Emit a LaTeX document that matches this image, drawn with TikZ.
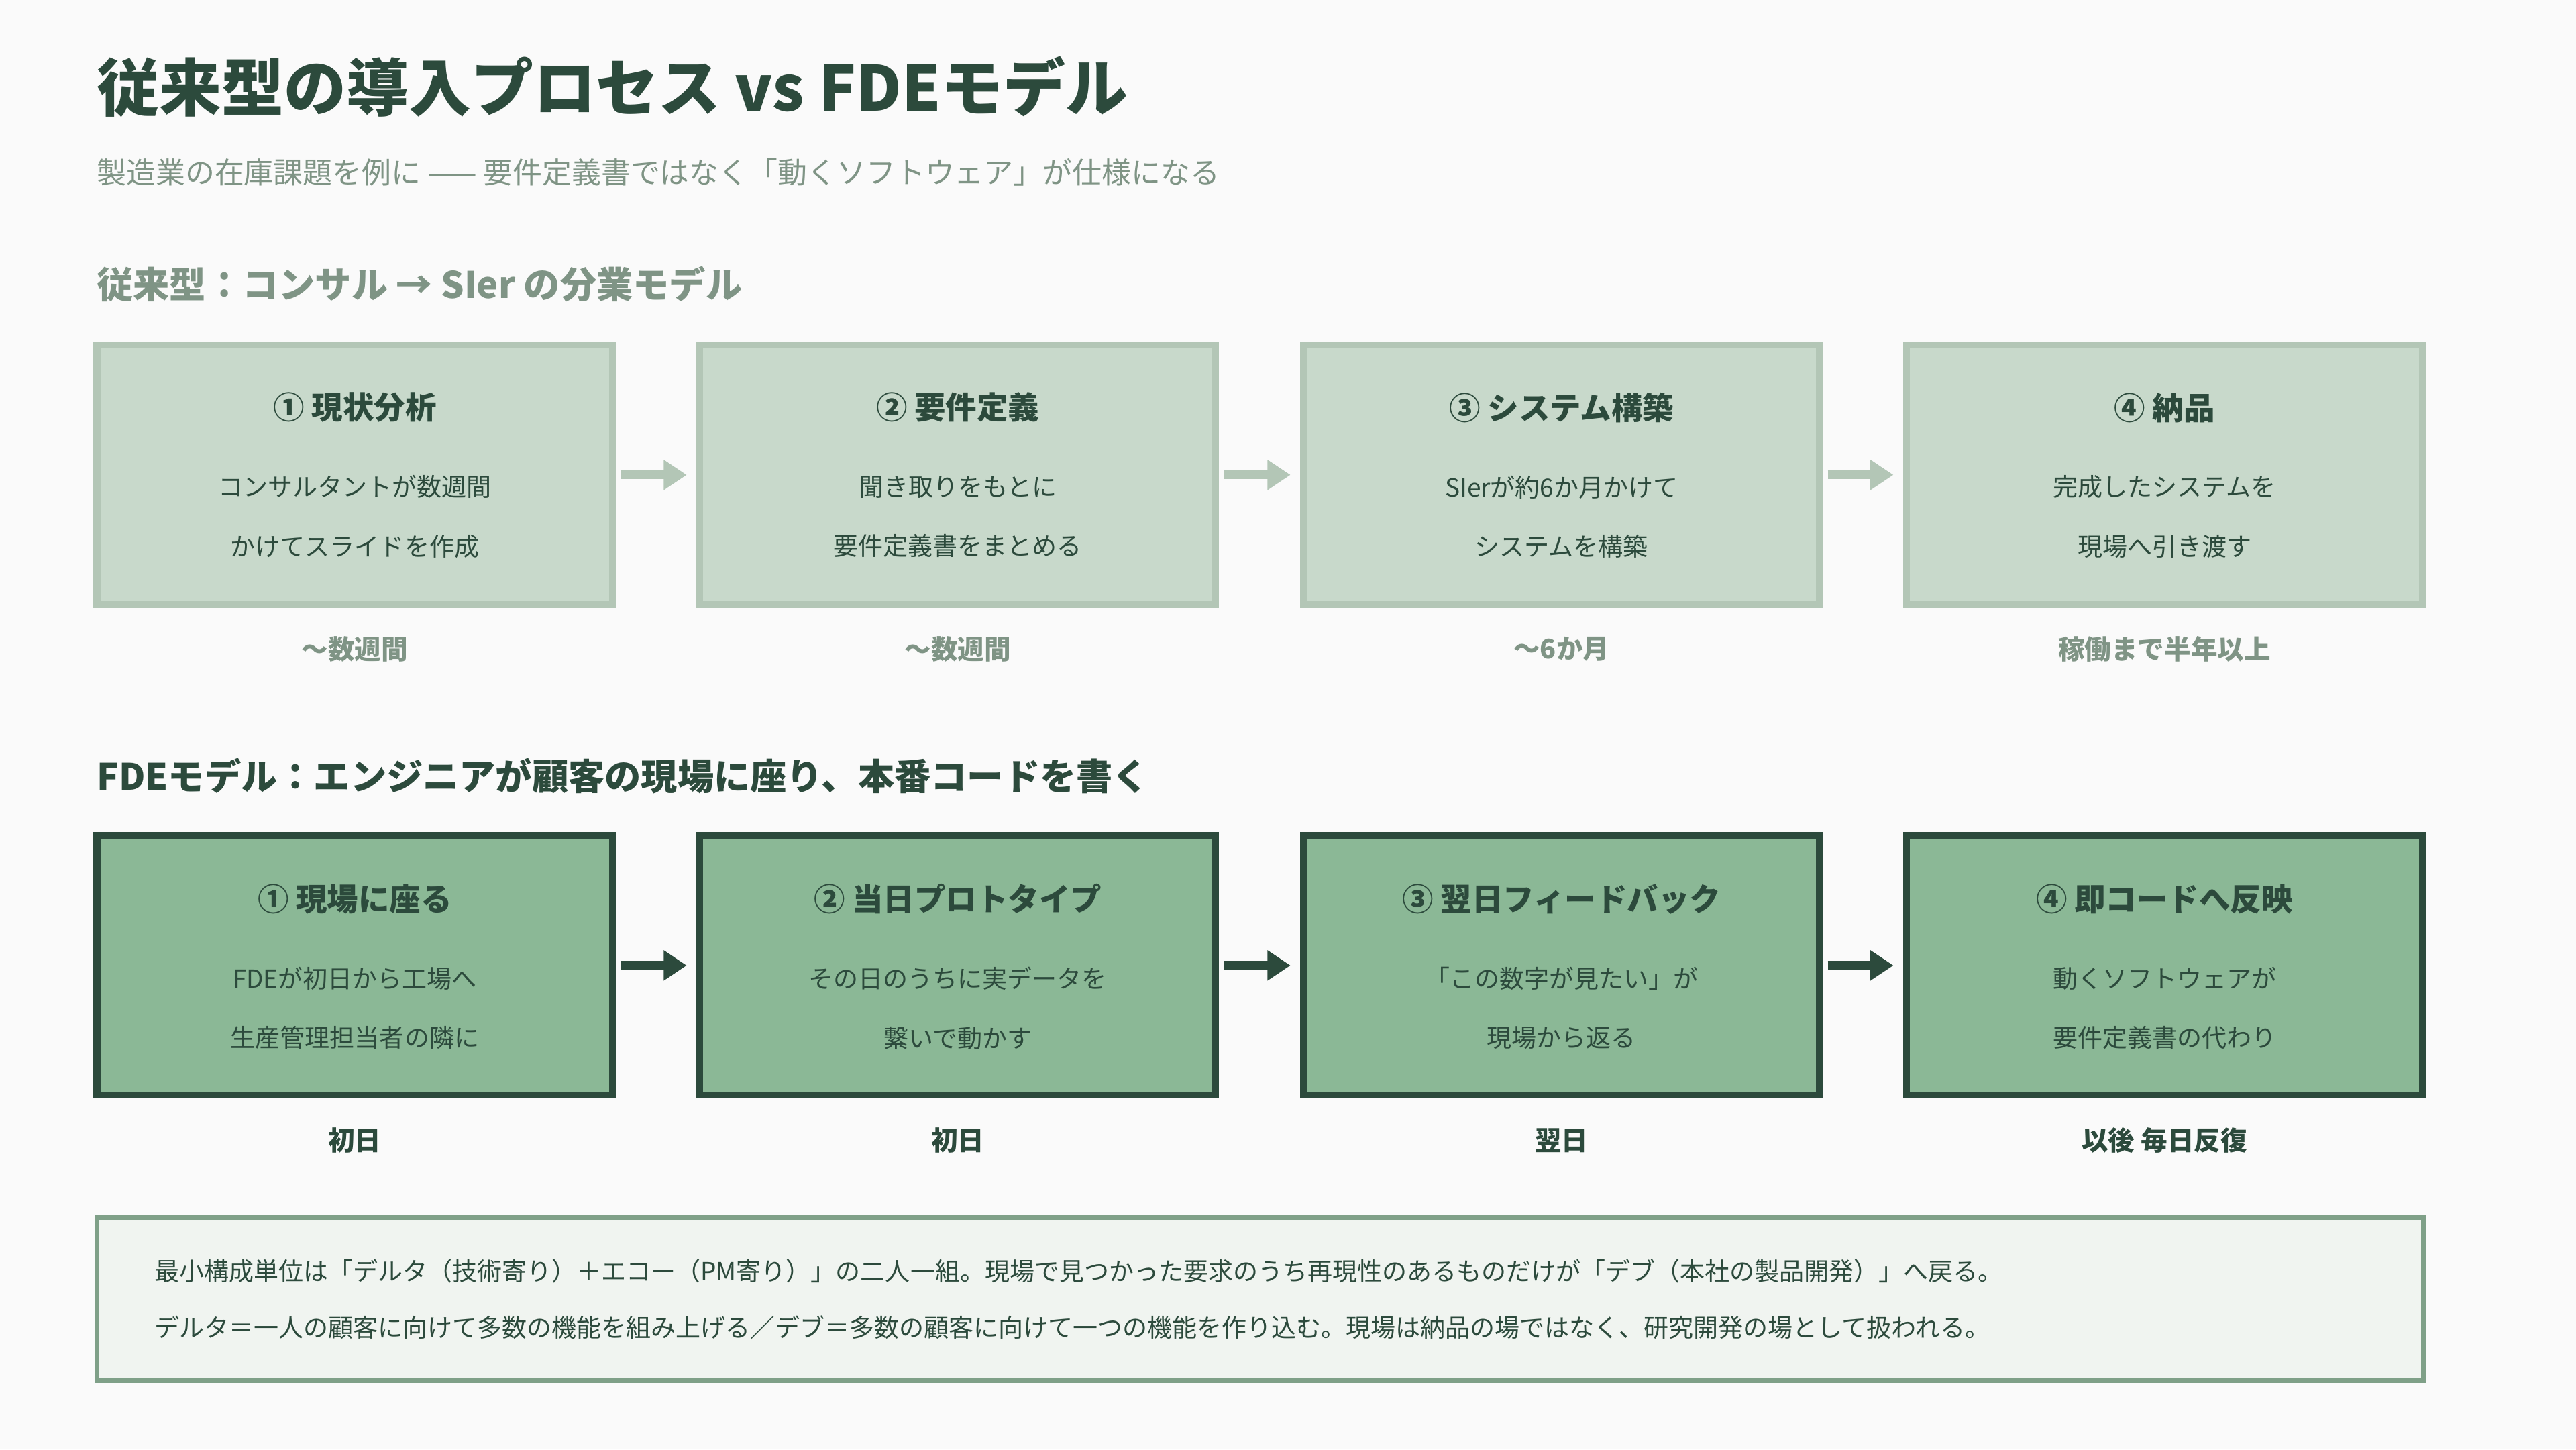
\documentclass[tikz,border=0pt]{standalone}
\usepackage{fontspec}
\setmainfont{Noto Sans CJK JP}
\usetikzlibrary{arrows.meta}
\definecolor{bgc}{HTML}{FAFAFA}
\definecolor{darkg}{HTML}{2C4A3C}
\definecolor{greyg}{HTML}{7F9485}
\definecolor{lightfill}{HTML}{C8D9CB}
\definecolor{lightline}{HTML}{B3C6B6}
\definecolor{darkfill}{HTML}{8BB896}
\definecolor{notefill}{HTML}{F0F4F0}
\definecolor{noteline}{HTML}{7FA088}
\newcommand{\fs}[1]{\fontsize{#1pt}{#1pt}\selectfont}
\begin{document}
\begin{tikzpicture}[inner sep=0pt,outer sep=0pt,
oldblock/.style={draw=lightline,fill=lightfill,line width=1.2pt,minimum width=3.14cm,minimum height=1.58cm},
fdeblock/.style={draw=darkg,fill=darkfill,line width=1.2pt,minimum width=3.14cm,minimum height=1.58cm},
blocktitle/.style={text=darkg,font=\fs{5.4}\bfseries},
blocktext/.style={text=darkg,font=\fs{4.3},align=center},
oldlabel/.style={text=greyg,font=\fs{4.6}\bfseries},
fdelabel/.style={text=darkg,font=\fs{4.6}\bfseries},
heading/.style={anchor=west,font=\fs{6.3}\bfseries},
oldarrow/.style={-{Triangle[length=4pt,width=5pt]},draw=lightline,line width=1.5pt},
fdearrow/.style={-{Triangle[length=4pt,width=5pt]},draw=darkg,line width=1.5pt}]
\fill[bgc] (0,0) rectangle (15.68,-8.82);
\draw (0.59,-0.53) node[anchor=west,text=darkg,font=\fs{10.8}\bfseries] (title) {従来型の導入プロセス vs FDEモデル};
\draw (0.59,-1.05) node[anchor=west,text=greyg,font=\fs{5.1}] (subtitle) {製造業の在庫課題を例に —— 要件定義書ではなく「動くソフトウェア」が仕様になる};
% 従来型
\draw (0.59,-1.73) node[heading,text=greyg] (oldhead) {従来型：コンサル → SIer の分業モデル};
\draw (2.16,-2.89) node[oldblock] (old1) {};
\draw (5.83,-2.89) node[oldblock] (old2) {};
\draw (9.505,-2.89) node[oldblock] (old3) {};
\draw (13.175,-2.89) node[oldblock] (old4) {};
\draw (2.16,-2.48) node[blocktitle] (old1t) {① 現状分析};
\draw (5.83,-2.48) node[blocktitle] (old2t) {② 要件定義};
\draw (9.505,-2.48) node[blocktitle] (old3t) {③ システム構築};
\draw (13.175,-2.48) node[blocktitle] (old4t) {④ 納品};
\draw (2.16,-3.145) node[blocktext] (old1x) {コンサルタントが数週間\\[6pt]かけてスライドを作成};
\draw (5.83,-3.145) node[blocktext] (old2x) {聞き取りをもとに\\[6pt]要件定義書をまとめる};
\draw (9.505,-3.145) node[blocktext] (old3x) {SIerが約6か月かけて\\[6pt]システムを構築};
\draw (13.175,-3.145) node[blocktext] (old4x) {完成したシステムを\\[6pt]現場へ引き渡す};
\draw (2.16,-3.95) node[oldlabel] (old1l) {〜数週間};
\draw (5.83,-3.95) node[oldlabel] (old2l) {〜数週間};
\draw (9.505,-3.95) node[oldlabel] (old3l) {〜6か月};
\draw (13.175,-3.95) node[oldlabel] (old4l) {稼働まで半年以上};
\draw[oldarrow] ([xshift=0.05cm]old1.east) -- ([xshift=-0.08cm]old2.west);
\draw[oldarrow] ([xshift=0.05cm]old2.east) -- ([xshift=-0.08cm]old3.west);
\draw[oldarrow] ([xshift=0.05cm]old3.east) -- ([xshift=-0.08cm]old4.west);
% FDE
\draw (0.59,-4.72) node[heading,text=darkg] (fdehead) {FDEモデル：エンジニアが顧客の現場に座り、本番コードを書く};
\draw (2.16,-5.875) node[fdeblock] (fde1) {};
\draw (5.83,-5.875) node[fdeblock] (fde2) {};
\draw (9.505,-5.875) node[fdeblock] (fde3) {};
\draw (13.175,-5.875) node[fdeblock] (fde4) {};
\draw (2.16,-5.47) node[blocktitle] (fde1t) {① 現場に座る};
\draw (5.83,-5.47) node[blocktitle] (fde2t) {② 当日プロトタイプ};
\draw (9.505,-5.47) node[blocktitle] (fde3t) {③ 翌日フィードバック};
\draw (13.175,-5.47) node[blocktitle] (fde4t) {④ 即コードへ反映};
\draw (2.16,-6.135) node[blocktext] (fde1x) {FDEが初日から工場へ\\[6pt]生産管理担当者の隣に};
\draw (5.83,-6.135) node[blocktext] (fde2x) {その日のうちに実データを\\[6pt]繋いで動かす};
\draw (9.505,-6.135) node[blocktext] (fde3x) {「この数字が見たい」が\\[6pt]現場から返る};
\draw (13.175,-6.135) node[blocktext] (fde4x) {動くソフトウェアが\\[6pt]要件定義書の代わり};
\draw (2.16,-6.94) node[fdelabel] (fde1l) {初日};
\draw (5.83,-6.94) node[fdelabel] (fde2l) {初日};
\draw (9.505,-6.94) node[fdelabel] (fde3l) {翌日};
\draw (13.175,-6.94) node[fdelabel] (fde4l) {以後 毎日反復};
\draw[fdearrow] ([xshift=0.05cm]fde1.east) -- ([xshift=-0.08cm]fde2.west);
\draw[fdearrow] ([xshift=0.05cm]fde2.east) -- ([xshift=-0.08cm]fde3.west);
\draw[fdearrow] ([xshift=0.05cm]fde3.east) -- ([xshift=-0.08cm]fde4.west);
% note
\draw (0.59,-7.41) node[draw=noteline,fill=notefill,line width=0.8pt,anchor=north west,minimum width=14.16cm,minimum height=0.99cm] (note) {};
\draw (0.94,-7.905) node[anchor=west,text=darkg,font=\fs{4.3},align=left] (notetext) {最小構成単位は「デルタ（技術寄り）＋エコー（PM寄り）」の二人一組。現場で見つかった要求のうち再現性のあるものだけが「デブ（本社の製品開発）」へ戻る。\\[5.5pt]デルタ＝一人の顧客に向けて多数の機能を組み上げる／デブ＝多数の顧客に向けて一つの機能を作り込む。現場は納品の場ではなく、研究開発の場として扱われる。};
\end{tikzpicture}
\end{document}
